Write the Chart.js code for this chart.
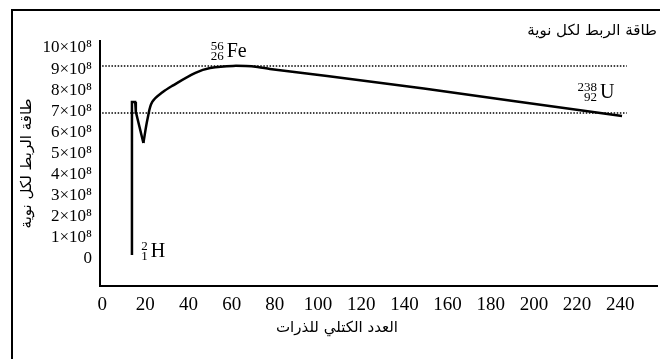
<!DOCTYPE html>
<html>
<head>
<meta charset="utf-8">
<script src="https://cdn.jsdelivr.net/npm/chart.js@4/dist/chart.umd.min.js"></script>
<style>
  html, body { margin: 0; padding: 0; background: #fff; }
  #wrap { width: 660px; height: 359px; }
</style>
</head>
<body>
<div id="wrap"><canvas id="c" width="660" height="359"></canvas></div>
<script>
// Binding energy per nucleon (units of 10^8) against mass number.
// Light-nucleus spike (deuterium up to the helium dip), drawn with straight segments.
const spikeMass   = [13.8, 13.8, 15.3, 15.6, 19.1];
const spikeEnergy = [0.19, 7.44, 7.44, 6.97, 5.50];

// Main curve from the dip, over the iron peak, down to uranium.
const curveMass   = [19.1, 21.1, 23.2, 28.1, 32.4, 43.2, 50.0, 60.6, 72.0, 77.7, 104.2, 149.0, 190.4, 240.8];
const curveEnergy = [5.50, 6.68, 7.44, 7.91, 8.20, 8.82, 9.05, 9.15, 9.10, 9.00, 8.67, 8.08, 7.49, 6.78];

// Dotted reference levels and their extent along the mass axis.
const refLevels = [9.15, 6.92];
const refSpan   = [0, 243];

// Axis ticks.
const xTicks = [0, 20, 40, 60, 80, 100, 120, 140, 160, 180, 200, 220, 240];
const yTicks = [0, 1, 2, 3, 4, 5, 6, 7, 8, 9, 10];
const yTickLabels = ['0', '1×10⁸', '2×10⁸', '3×10⁸', '4×10⁸', '5×10⁸', '6×10⁸', '7×10⁸', '8×10⁸', '9×10⁸', '10×10⁸'];

// Nuclide labels: symbol, mass number, atomic number, anchor (mass, energy).
const nuclideSymbol = ['H', 'Fe', 'U'];
const nuclideA      = ['2', '56', '238'];
const nuclideZ      = ['1', '26', '92'];
const labelMass     = [21.1, 56.3, 229.2];
const labelEnergy   = [0.09, 9.57, 7.63];

const chartTitle = 'طاقة الربط لكل نوية';
const yTitle     = 'طاقة الربط لكل نوية';
const xTitle     = 'العدد الكتلي للذرات';

const SERIF  = '"Liberation Serif", "Times New Roman", "DejaVu Serif", serif';
const ARABIC = '"DejaVu Sans", "Liberation Sans", "Noto Sans", sans-serif';

const toPoints = (xs, ys) => xs.map((x, i) => ({ x: x, y: ys[i] }));

const refDatasets = refLevels.map(level => ({
  data: toPoints(refSpan, [level, level]),
  borderColor: '#000',
  borderWidth: 1.5,
  borderDash: [1.5, 1.6],
  pointRadius: 0,
  tension: 0
}));

// Page frame (top and left rules) plus white background.
const framePlugin = {
  id: 'frame',
  beforeDraw(chart) {
    const ctx = chart.ctx;
    ctx.save();
    ctx.fillStyle = '#fff';
    ctx.fillRect(0, 0, chart.width, chart.height);
    ctx.strokeStyle = '#000';
    ctx.lineWidth = 2;
    ctx.beginPath();
    ctx.moveTo(12, chart.height);
    ctx.lineTo(12, 10);
    ctx.lineTo(chart.width, 10);
    ctx.stroke();
    ctx.restore();
  }
};

// Nuclide symbols with mass / atomic numbers, and the mass-axis caption.
const labelPlugin = {
  id: 'nuclides',
  afterDraw(chart) {
    const ctx = chart.ctx;
    const xs = chart.scales.x, ys = chart.scales.y;
    ctx.save();
    ctx.fillStyle = '#000';
    ctx.textBaseline = 'alphabetic';
    nuclideSymbol.forEach((sym, i) => {
      const px = xs.getPixelForValue(labelMass[i]);
      const py = ys.getPixelForValue(labelEnergy[i]);
      ctx.font = '20px ' + SERIF;
      ctx.textAlign = 'left';
      ctx.fillText(sym, px + 3, py);
      ctx.font = '13px ' + SERIF;
      ctx.textAlign = 'right';
      ctx.fillText(nuclideA[i], px, py - 7);
      ctx.fillText(nuclideZ[i], px, py + 3);
    });
    ctx.font = '15px ' + ARABIC;
    ctx.textAlign = 'center';
    ctx.textBaseline = 'middle';
    ctx.fillText(xTitle, chart.chartArea.left + 237, 328);
    ctx.restore();
  }
};

new Chart(document.getElementById('c'), {
  type: 'line',
  data: {
    datasets: [
      ...refDatasets,
      {
        data: toPoints(spikeMass, spikeEnergy),
        borderColor: '#000',
        borderWidth: 2.5,
        pointRadius: 0,
        tension: 0,
        borderJoinStyle: 'miter'
      },
      {
        data: toPoints(curveMass, curveEnergy),
        borderColor: '#000',
        borderWidth: 2.5,
        pointRadius: 0,
        tension: 0.35
      }
    ]
  },
  options: {
    responsive: false,
    animation: false,
    events: [],
    layout: { padding: { top: 22, right: 3, bottom: 0, left: 0 } },
    plugins: {
      legend: { display: false },
      tooltip: { enabled: false },
      title: {
        display: true,
        text: chartTitle,
        align: 'end',
        color: '#000',
        font: { family: ARABIC, size: 15, weight: 'normal' },
        padding: { top: 0, bottom: 1 }
      }
    },
    scales: {
      x: {
        type: 'linear',
        min: -1,
        max: 257,
        afterBuildTicks: s => { s.ticks = xTicks.map(v => ({ value: v })); },
        afterFit: s => { s.height = 73; },
        grid: { display: false, drawTicks: false },
        border: { display: true, color: '#000', width: 2 },
        ticks: {
          color: '#000',
          font: { family: SERIF, size: 19 },
          padding: 8,
          autoSkip: false,
          maxRotation: 0,
          callback: v => String(v)
        }
      },
      y: {
        type: 'linear',
        min: -1.28,
        max: 10.33,
        afterBuildTicks: s => { s.ticks = yTicks.map(v => ({ value: v })); },
        afterFit: s => { s.width = 100; },
        grid: { display: false, drawTicks: false },
        border: { display: true, color: '#000', width: 2 },
        ticks: {
          color: '#000',
          font: { family: SERIF, size: 17 },
          padding: 8,
          callback: v => yTickLabels[yTicks.indexOf(v)]
        },
        title: {
          display: true,
          text: yTitle,
          color: '#000',
          font: { family: ARABIC, size: 15 },
          padding: { top: 18, bottom: 0 }
        }
      }
    }
  },
  plugins: [framePlugin, labelPlugin]
});
</script>
</body>
</html>
